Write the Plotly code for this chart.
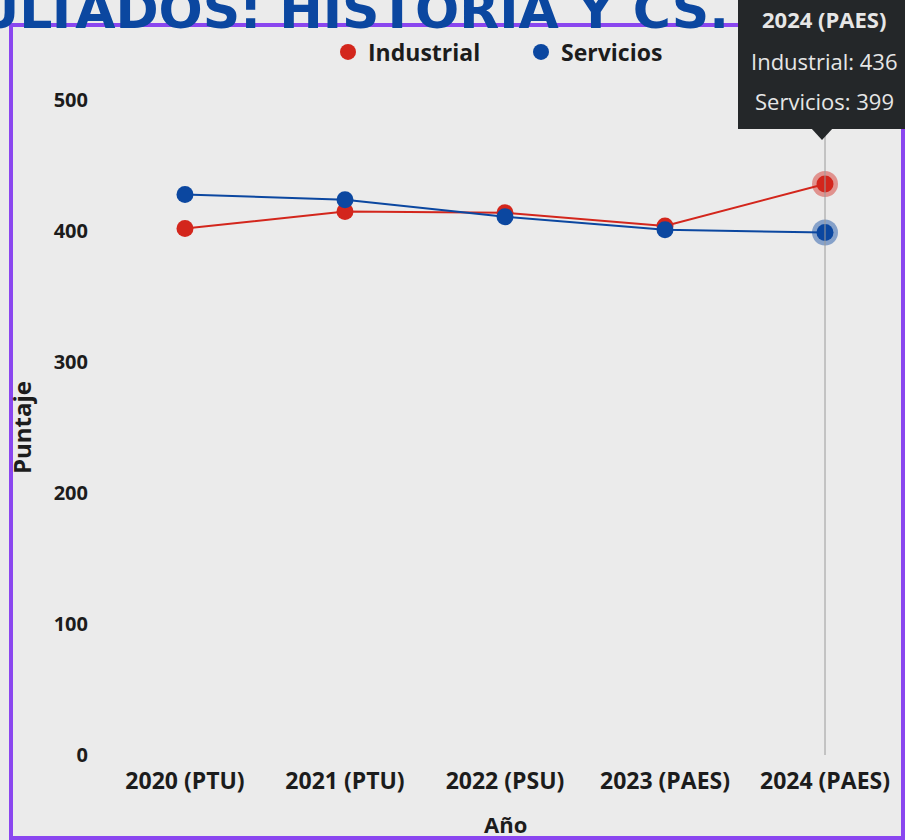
import plotly.graph_objects as go

# ---- data ----
years = ["2020 (PTU)", "2021 (PTU)", "2022 (PSU)", "2023 (PAES)", "2024 (PAES)"]
industrial = [402, 415, 414, 404, 436]
servicios = [428, 424, 411, 401, 399]
y_ticks = [0, 100, 200, 300, 400, 500]

RED = "#d3261c"
BLUE = "#0b47a0"
TXT = "#1c1c1c"
FONT = "Open Sans"

W, H = 905, 840
L, R, T, B = 105, 0, 74, 85
PW, PH = W - L - R, H - T - B


def px(x):
    return (x - L) / PW


def py(y):
    return (H - B - y) / PH


fig = go.Figure()

# main series
fig.add_trace(go.Scatter(x=years, y=industrial, mode="lines+markers", name="Industrial",
                         line=dict(color=RED, width=2), marker=dict(color=RED, size=17),
                         showlegend=False, hoverinfo="skip"))
fig.add_trace(go.Scatter(x=years, y=servicios, mode="lines+markers", name="Servicios",
                         line=dict(color=BLUE, width=2), marker=dict(color=BLUE, size=17),
                         showlegend=False, hoverinfo="skip"))

# hover halos on the last category
fig.add_trace(go.Scatter(x=years[-1:], y=industrial[-1:], mode="markers",
                         marker=dict(color=RED, size=26, opacity=0.45), showlegend=False, hoverinfo="skip"))
fig.add_trace(go.Scatter(x=years[-1:], y=servicios[-1:], mode="markers",
                         marker=dict(color=BLUE, size=26, opacity=0.45), showlegend=False, hoverinfo="skip"))

# legend-only entries (circle only)
fig.add_trace(go.Scatter(x=[None], y=[None], mode="markers", name="Industrial",
                         marker=dict(color=RED, size=22)))
fig.add_trace(go.Scatter(x=[None], y=[None], mode="markers", name="Servicios",
                         marker=dict(color=BLUE, size=22)))

shapes = []
# purple frame
shapes.append(dict(type="rect", xref="paper", yref="paper",
                   x0=px(11), x1=px(903), y0=py(838), y1=py(25),
                   line=dict(color="#8a46ef", width=4), fillcolor="rgba(0,0,0,0)", layer="above"))
# crosshair line
shapes.append(dict(type="line", xref="x", yref="paper", x0=years[-1], x1=years[-1],
                   y0=0, y1=py(128), line=dict(color="#9a9a9a", width=1)))
# tooltip box
shapes.append(dict(type="rect", xref="paper", yref="paper",
                   x0=px(738), x1=px(915), y0=py(129), y1=py(-10),
                   line=dict(width=0), fillcolor="#242729", layer="above"))
shapes.append(dict(type="path", xref="paper", yref="paper",
                   path=f"M {px(811)} {py(128)} L {px(833)} {py(128)} L {px(822)} {py(140)} Z",
                   line=dict(width=0), fillcolor="#242729", layer="above"))

annotations = [
    # title (cropped at top of the page)
    dict(text="RESULTADOS: HISTORIA Y CS.", xref="paper", yref="paper",
         x=px(731), y=py(42), xanchor="right", yanchor="bottom", showarrow=False,
         font=dict(family="DejaVu Sans", size=52, color=BLUE, weight="bold")),
    # axis titles
    dict(text="Puntaje", xref="paper", yref="paper", x=px(21), y=py(428), textangle=-90,
         xanchor="center", yanchor="middle", showarrow=False,
         font=dict(family=FONT, size=24, color=TXT, weight="bold")),
    dict(text="Año", xref="paper", yref="paper", x=0.5, y=py(824),
         xanchor="center", yanchor="middle", showarrow=False,
         font=dict(family=FONT, size=22, color=TXT, weight="bold")),
    # tooltip text
    dict(text="2024 (PAES)", xref="paper", yref="paper", x=px(824), y=py(19),
         xanchor="center", yanchor="middle", showarrow=False,
         font=dict(family=FONT, size=22, color="#e6e6e6", weight="bold")),
    dict(text=f"Industrial: {industrial[-1]}", xref="paper", yref="paper", x=px(824), y=py(61),
         xanchor="center", yanchor="middle", showarrow=False,
         font=dict(family=FONT, size=22, color="#e6e6e6")),
    dict(text=f"Servicios: {servicios[-1]}", xref="paper", yref="paper", x=px(824), y=py(101),
         xanchor="center", yanchor="middle", showarrow=False,
         font=dict(family=FONT, size=22, color="#e6e6e6")),
]

fig.update_layout(
    width=W, height=H,
    margin=dict(l=L, r=R, t=T, b=B, pad=0),
    paper_bgcolor="#ebebeb", plot_bgcolor="rgba(0,0,0,0)",
    showlegend=True,
    legend=dict(orientation="h", x=0.52, xanchor="center", y=py(52), yanchor="middle",
                font=dict(family=FONT, size=23, color=TXT, weight="bold"),
                bgcolor="rgba(0,0,0,0)", itemwidth=30, entrywidth=148, entrywidthmode="pixels"),
    xaxis=dict(type="category", categoryorder="array", categoryarray=years,
               range=[-0.5, len(years) - 0.5], showgrid=False, zeroline=False, showline=False,
               ticks="", ticklabelstandoff=10, automargin=False,
               tickfont=dict(family=FONT, size=23, color=TXT, weight="bold")),
    yaxis=dict(range=[0, 520], tickvals=y_ticks, showgrid=False, zeroline=False, showline=False,
               ticks="", ticklabelstandoff=16, automargin=False,
               tickfont=dict(family=FONT, size=20, color=TXT, weight="bold")),
    shapes=shapes,
    annotations=annotations,
)

fig.write_html("out.html", config={"displayModeBar": False},
               post_script="document.body.style.margin='0';document.body.style.overflow='hidden';")
